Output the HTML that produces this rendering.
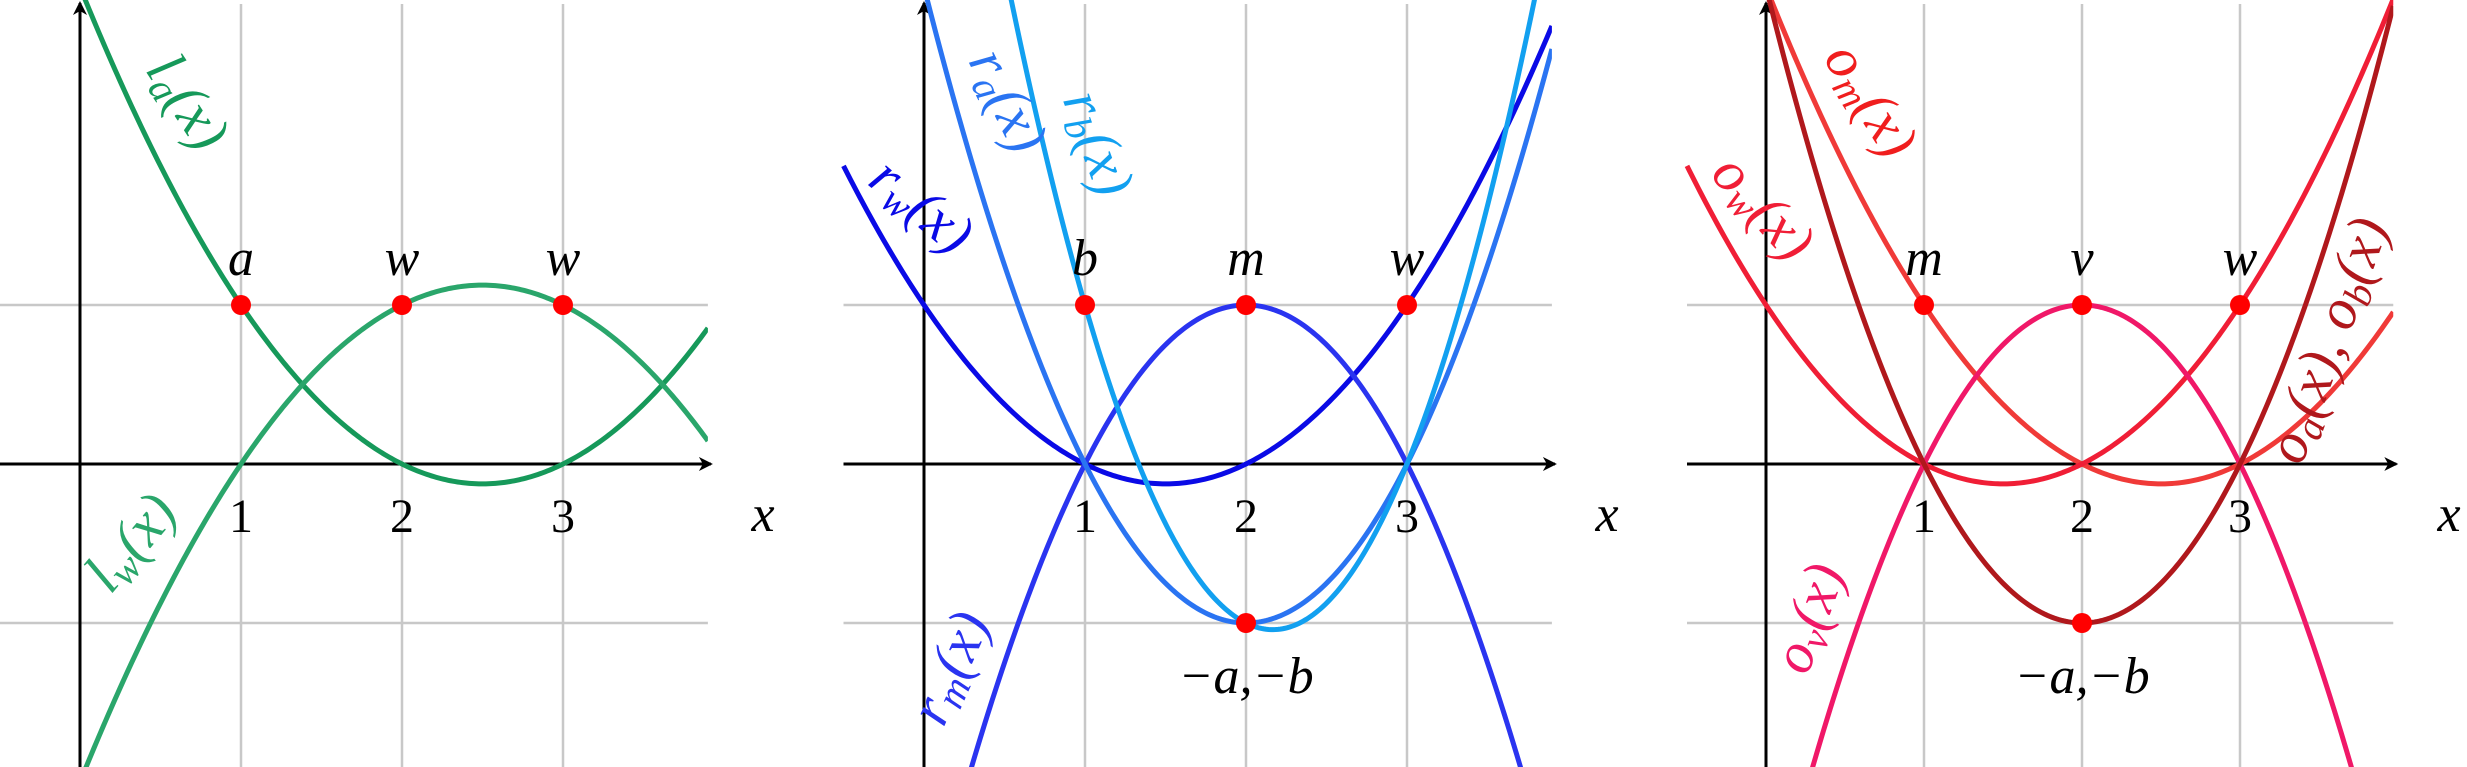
<!DOCTYPE html>
<html><head><meta charset="utf-8"><style>
html,body{margin:0;padding:0;background:#fff;width:2467px;height:767px;overflow:hidden;}
svg{display:block;}
text{font-family:"Liberation Serif","DejaVu Serif",serif;}
</style></head><body>
<svg id="chart" width="2467" height="767" viewBox="0 0 2467 767" xmlns="http://www.w3.org/2000/svg">
<defs>
<marker id="arr" markerWidth="14" markerHeight="14" refX="12" refY="7" orient="auto" markerUnits="userSpaceOnUse">
<path d="M0,0 L14,7 L0,14 L4,7 Z" fill="#000"/></marker>
</defs>
</svg>
<script>
// shared nodes
const nodes = [1, 2, 3];
const tickLabels = ['1', '2', '3'];
// panel 1 (green)
const la_vals = [1, 0, 0];
const lw_vals = [0, 1, 1];
const p1_pointX = [1, 2, 3];
const p1_pointY = [1, 1, 1];
const p1_pointLabels = ['a', 'w', 'w'];
// panel 2 (blue)
const rw_vals = [0, 0, 1];
const rm_vals = [0, 1, 0];
const ra_vals = [0, -1, 0];
const rb_vals = [1, -1, 0];
const p2_pointX = [1, 2, 3, 2];
const p2_pointY = [1, 1, 1, -1];
const p2_pointLabels = ['b', 'm', 'w'];
// panel 3 (red)
const om_vals = [1, 0, 0];
const ow_vals = [0, 0, 1];
const ov_vals = [0, 1, 0];
const oab_vals = [0, -1, 0];
const p3_pointX = [1, 2, 3, 2];
const p3_pointY = [1, 1, 1, -1];
const p3_pointLabels = ['m', 'v', 'w'];

const NS = 'http://www.w3.org/2000/svg';
const svg = document.getElementById('chart');
function mk(tag, attrs, parent) {
  const e = document.createElementNS(NS, tag);
  for (const k in attrs) e.setAttribute(k, attrs[k]);
  (parent || svg).appendChild(e);
  return e;
}
function lagrange(vals, x) {
  let s = 0;
  for (let i = 0; i < 3; i++) {
    let t = vals[i];
    for (let j = 0; j < 3; j++) if (j !== i) t *= (x - nodes[j]) / (nodes[i] - nodes[j]);
    s += t;
  }
  return s;
}
const OY = 464, UY = 159;

function panel(id, ox, ux, xmax, curves, px, py, plabels, labels, bottomLabel) {
  const sx = v => ox + v * ux;
  const sy = v => OY - v * UY;
  const g = mk('g', {});
  
  
  const x0 = sx(-0.5), x1 = sx(xmax) + 3;
  // grid
  for (const n of nodes) {
    const l = mk('line', {x1: sx(n), x2: sx(n), y1: 4, y2: 767, stroke: '#c8c8c8', 'stroke-width': 2.5}, g);
    
    
  }
  for (const v of [1, -1]) {
    const l = mk('line', {x1: x0, x2: sx(xmax), y1: sy(v), y2: sy(v), stroke: '#c8c8c8', 'stroke-width': 2.5}, g);
    
    
  }
  // axes
  const xa = mk('line', {x1: x0, x2: x1, y1: OY, y2: OY, stroke: '#000', 'stroke-width': 3, 'marker-end': 'url(#arr)'}, g);
  
  
  const ya = mk('line', {x1: ox, x2: ox, y1: 767, y2: 3, stroke: '#000', 'stroke-width': 3, 'marker-end': 'url(#arr)'}, g);
  
  
  // tick labels
  nodes.forEach((n, i) => {
    const t = mk('text', {x: sx(n), y: 532, 'font-size': 48, 'text-anchor': 'middle'}, g);
    t.textContent = tickLabels[i];
    
    
  });
  const xt = mk('text', {x: ox + 683, y: 531, 'font-size': 52, 'font-style': 'italic', 'text-anchor': 'middle'}, g);
  xt.textContent = 'x';
  
  
  // curves
  const cid = 'clip-' + id;
  const cp = mk('clipPath', {id: cid}, g);
  mk('rect', {x: x0 - 5, y: 0, width: sx(xmax) - x0 + 5, height: 767}, cp);
  for (const c of curves) {
    let d = '';
    const N = 300;
    for (let k = 0; k <= N; k++) {
      const xv = -0.5 + (xmax + 0.5) * k / N;
      d += (k ? 'L' : 'M') + sx(xv).toFixed(2) + ',' + sy(lagrange(c.vals, xv)).toFixed(2);
    }
    const p = mk('path', {d: d, fill: 'none', stroke: c.color, 'stroke-width': 5, 'clip-path': 'url(#' + cid + ')'}, g);
    
    
  }
  // points
  px.forEach((xv, i) => {
    const c = mk('ellipse', {cx: sx(xv), cy: sy(py[i]), rx: 10, ry: 10, fill: '#ff0000'}, g);
    
    
  });
  plabels.forEach((s, i) => {
    const t = mk('text', {x: sx(px[i]), y: 275, 'font-size': 52, 'font-style': 'italic', 'text-anchor': 'middle'}, g);
    t.textContent = s;
    
    
  });
  if (bottomLabel) {
    const t = mk('text', {x: sx(2), y: 693, 'font-size': 52, 'font-style': 'italic', 'text-anchor': 'middle'}, g);
    t.textContent = '\u2212a,\u2212b';
    
    
  }
  // curve labels
  for (const L of labels) {
    const t = mk('text', {x: 0, y: 0, 'font-size': 58, 'font-style': 'italic', fill: L.color, 'text-anchor': 'middle',
      transform: 'translate(' + L.x + ',' + L.y + ') rotate(' + L.r + ')', 'dominant-baseline': 'middle'}, g);
    
    
    const a = mk('tspan', {}, t); a.textContent = L.f;
    const b = mk('tspan', {'font-size': 40, dy: 12}, t); b.textContent = L.sub;
    const c = mk('tspan', {dy: -12}, t); c.textContent = '(x)';
    if (L.extra) {
      const d = mk('tspan', {}, t); d.textContent = ', ' + L.f;
      const e = mk('tspan', {'font-size': 40, dy: 12}, t); e.textContent = L.extra;
      const f = mk('tspan', {dy: -12}, t); f.textContent = '(x)';
    }
  }
}

panel('panel-l', 80, 161, 3.9,
  [{vals: la_vals, color: '#16995a', name: 'curve-l-a'}, {vals: lw_vals, color: '#2aa66b', name: 'curve-l-w'}],
  p1_pointX, p1_pointY, p1_pointLabels,
  [{f: 'l', sub: 'a', x: 183, y: 105, r: 57, color: '#16995a', name: 'label-l-a'},
   {f: 'l', sub: 'w', x: 135, y: 546, r: -50, color: '#2aa66b', name: 'label-l-w'}], false);

panel('panel-r', 924, 161, 3.9,
  [{vals: rw_vals, color: '#0a0ae6', name: 'curve-r-w'}, {vals: rm_vals, color: '#2a34f0', name: 'curve-r-m'},
   {vals: ra_vals, color: '#2a74f2', name: 'curve-r-a'}, {vals: rb_vals, color: '#12a0f0', name: 'curve-r-b'}],
  p2_pointX, p2_pointY, p2_pointLabels,
  [{f: 'r', sub: 'a', x: 1003, y: 103, r: 64, color: '#2a74f2', name: 'label-r-a'},
   {f: 'r', sub: 'b', x: 1093, y: 145, r: 70, color: '#12a0f0', name: 'label-r-b'},
   {f: 'r', sub: 'w', x: 918, y: 210, r: 40, color: '#0a0ae6', name: 'label-r-w'},
   {f: 'r', sub: 'm', x: 955, y: 670, r: -66, color: '#2a34f0', name: 'label-r-m'}], true);

panel('panel-o', 1766, 158, 3.97,
  [{vals: om_vals, color: '#f03a38', name: 'curve-o-m'}, {vals: ow_vals, color: '#f01e36', name: 'curve-o-w'},
   {vals: ov_vals, color: '#f01868', name: 'curve-o-v'}, {vals: oab_vals, color: '#b0181c', name: 'curve-o-ab'}],
  p3_pointX, p3_pointY, p3_pointLabels,
  [{f: 'o', sub: 'm', x: 1866, y: 103, r: 58, color: '#f01e1e', name: 'label-o-m'},
   {f: 'o', sub: 'w', x: 1759, y: 211, r: 48, color: '#f01e36', name: 'label-o-w'},
   {f: 'o', sub: 'v', x: 1814, y: 620, r: -70, color: '#f01868', name: 'label-o-v'},
   {f: 'o', sub: 'a', extra: 'b', x: 2333, y: 342, r: -70, color: '#b0181c', name: 'label-o-ab'}], true);
</script>
</body></html>
